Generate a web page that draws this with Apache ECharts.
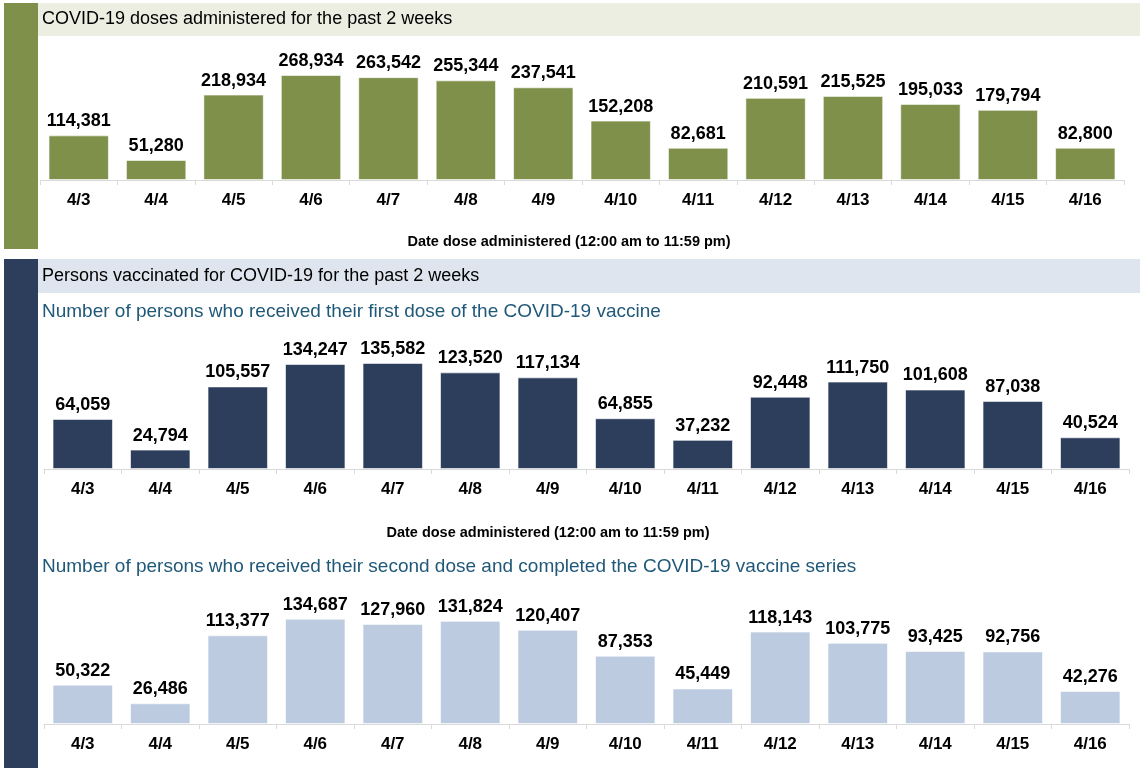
<!DOCTYPE html>
<html><head><meta charset="utf-8">
<script src="https://cdn.jsdelivr.net/npm/echarts@6/dist/echarts.min.js"></script>
<style>html,body{margin:0;padding:0;background:#fff}#c{width:1140px;height:768px}</style>
</head><body><div id="c"></div>
<script>
const dates = ['4/3','4/4','4/5','4/6','4/7','4/8','4/9','4/10','4/11','4/12','4/13','4/14','4/15','4/16'];
const totalDoses = [114381,51280,218934,268934,263542,255344,237541,152208,82681,210591,215525,195033,179794,82800];
const firstDoses = [64059,24794,105557,134247,135582,123520,117134,64855,37232,92448,111750,101608,87038,40524];
const secondDoses = [50322,26486,113377,134687,127960,131824,120407,87353,45449,118143,103775,93425,92756,42276];
const headerTotal = 'COVID-19 doses administered for the past 2 weeks';
const headerPersons = 'Persons vaccinated for COVID-19 for the past 2 weeks';
const subFirst = 'Number of persons who received their first dose of the COVID-19 vaccine';
const subSecond = 'Number of persons who received their second dose and completed the COVID-19 vaccine series';
const axisTitle = 'Date dose administered (12:00 am to 11:59 pm)';

const GREEN = '#7e9049', NAVY = '#2c3e5c', LIGHT = '#bccbe0';
const fmt = v => v.toLocaleString('en-US');
const chart = echarts.init(document.getElementById('c'), null, {renderer:'canvas'});

function xAx(gi){
  return {
    type:'category', gridIndex:gi, data:dates,
    axisLine:{lineStyle:{color:'#d9d9d9', width:1}},
    axisTick:{show:true, length:5, lineStyle:{color:'#d9d9d9'}},
    axisLabel:{color:'#000', fontFamily:'Liberation Sans', fontWeight:'bold', fontSize:17, margin:12}
  };
}
function yAx(gi, max){ return {type:'value', gridIndex:gi, min:0, max:max, show:false}; }
function ser(gi, data, color){
  return {type:'bar', xAxisIndex:gi, yAxisIndex:gi, data:data, barCategoryGap:'22%',
    itemStyle:{color:color, borderColor:'rgba(255,255,255,0.6)', borderWidth:1},
    label:{show:true, position:'top', distance:5, formatter:p=>fmt(p.value),
      color:'#000', fontFamily:'Liberation Sans', fontWeight:'bold', fontSize:18}};
}
const hdrFont = {fontFamily:'Liberation Sans', fontSize:18, fill:'#000'};
const subFont = {fontFamily:'Liberation Sans', fontSize:19, fill:'#1f5878'};
const axFont = {fontFamily:'Liberation Sans', fontWeight:'bold', fontSize:14.5, fill:'#000', textAlign:'center', textVerticalAlign:'middle'};

chart.setOption({
  animation:false,
  grid:[
    {left:40, right:16, top:47.3, height:132.7},
    {left:44, right:11, top:336, height:133},
    {left:44, right:11, top:591, height:133}
  ],
  xAxis:[xAx(0), xAx(1), xAx(2)],
  yAxis:[yAx(0,340000), yAx(1,170000), yAx(2,170000)],
  series:[ser(0,totalDoses,GREEN), ser(1,firstDoses,NAVY), ser(2,secondDoses,LIGHT)],
  graphic:[
    {type:'rect', shape:{x:4,y:3,width:34,height:246}, style:{fill:GREEN}, z:-1},
    {type:'rect', shape:{x:38,y:3,width:1102,height:33}, style:{fill:'#ebeee0'}, z:-1},
    {type:'text', x:42, y:19, style:Object.assign({text:headerTotal, textVerticalAlign:'middle'}, hdrFont)},
    {type:'text', x:569, y:242, style:Object.assign({text:axisTitle}, axFont)},
    {type:'rect', shape:{x:4,y:259,width:34,height:509}, style:{fill:NAVY}, z:-1},
    {type:'rect', shape:{x:38,y:259,width:1102,height:34}, style:{fill:'#dfe5ee'}, z:-1},
    {type:'text', x:42, y:276, style:Object.assign({text:headerPersons, textVerticalAlign:'middle'}, hdrFont)},
    {type:'text', x:42, y:312, style:Object.assign({text:subFirst, textVerticalAlign:'middle'}, subFont)},
    {type:'text', x:548, y:533, style:Object.assign({text:axisTitle}, axFont)},
    {type:'text', x:42, y:567, style:Object.assign({text:subSecond, textVerticalAlign:'middle'}, subFont)}
  ]
});
</script></body></html>
